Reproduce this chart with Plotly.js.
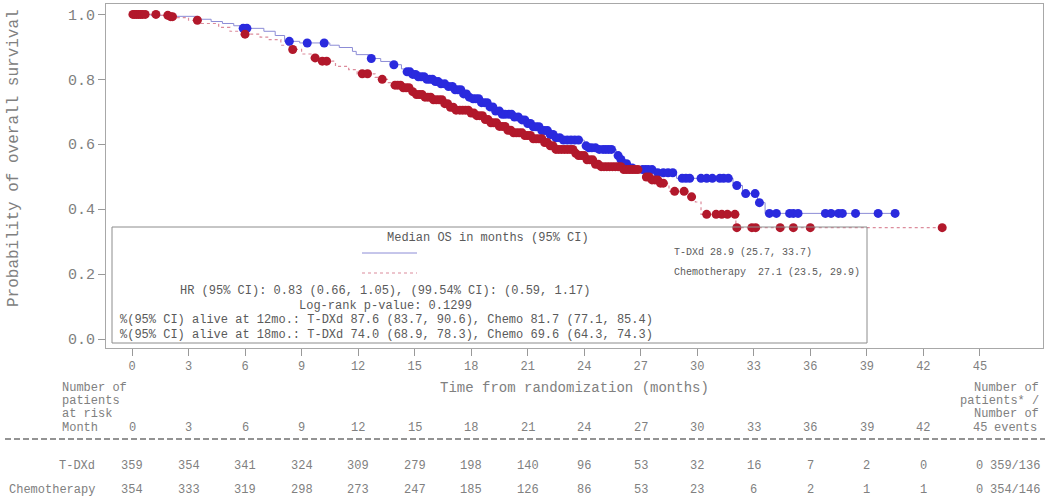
<!DOCTYPE html>
<html>
<head>
<meta charset="utf-8">
<script src="https://cdn.plot.ly/plotly-3.0.1.min.js"></script>
<style>html,body{margin:0;padding:0;background:#fff;}#chart{width:1047px;height:504px;}</style>
</head>
<body>
<div id="chart"></div>
<script>
// ---- Data ----
const tdxdTime = [0, 1.0, 2.0, 3.5, 4.2, 4.8, 5.4, 5.8, 7.0, 7.6, 8.1, 8.9, 10.5, 11.0, 11.7, 11.9, 12.6, 13.2, 13.7, 14.3, 14.6, 14.9, 15.2, 15.6, 16.0, 16.4, 16.8, 17.1, 17.5, 17.9, 18.0, 18.5, 18.9, 19.2, 19.6, 20.3, 20.6, 21.0, 21.3, 21.7, 22.1, 22.4, 22.9, 24.0, 24.2, 24.8, 25.7, 25.9, 26.1, 26.4, 26.9, 27.8, 28.9, 31.9, 32.4, 33.2, 33.6];
const tdxdSurv = [1.0, 0.997, 0.994, 0.985, 0.978, 0.972, 0.965, 0.957, 0.948, 0.935, 0.917, 0.912, 0.905, 0.898, 0.886, 0.876, 0.864, 0.855, 0.845, 0.832, 0.823, 0.815, 0.808, 0.800, 0.793, 0.786, 0.778, 0.768, 0.755, 0.745, 0.740, 0.728, 0.715, 0.702, 0.692, 0.684, 0.675, 0.664, 0.654, 0.642, 0.630, 0.620, 0.613, 0.595, 0.589, 0.584, 0.565, 0.553, 0.540, 0.527, 0.522, 0.512, 0.495, 0.473, 0.448, 0.420, 0.387];
const tdxdCensor = [5.9, 6.1, 8.35, 9.3, 10.2, 12.7, 13.9, 14.6, 14.75, 14.9, 15.05, 15.2, 15.35, 15.5, 15.65, 15.8, 15.95, 16.1, 16.25, 16.4, 16.6, 16.8, 17.0, 17.15, 17.3, 17.45, 17.6, 17.75, 17.9, 18.1, 18.25, 18.4, 18.55, 18.7, 18.85, 19.0, 19.15, 19.3, 19.5, 19.65, 19.8, 20.0, 20.15, 20.3, 20.5, 20.7, 20.85, 21.0, 21.15, 21.3, 21.45, 21.6, 21.75, 21.9, 22.05, 22.2, 22.35, 22.5, 22.7, 22.9, 23.1, 23.3, 23.5, 23.7, 24.1, 24.25, 24.4, 24.6, 24.8, 25.0, 25.15, 25.3, 25.45, 25.8, 25.95, 26.1, 26.25, 26.4, 26.55, 27.1, 27.25, 27.4, 27.6, 27.9, 28.2, 28.45, 28.7, 29.2, 29.4, 29.6, 30.2, 30.5, 30.8, 31.2, 31.4, 31.65, 32.1, 32.57, 33.07, 33.3, 33.83, 34.2, 34.9, 35.1, 35.35, 36.8, 37.1, 37.5, 37.7, 38.4, 39.6, 40.5];

const chemoTime = [0, 1.5, 2.0, 2.2, 3.0, 3.6, 4.6, 5.2, 5.9, 6.8, 7.2, 7.9, 8.4, 9.0, 9.5, 10.0, 10.8, 11.5, 11.95, 12.9, 13.2, 13.6, 13.9, 14.3, 14.8, 15.0, 15.5, 16.0, 16.5, 16.9, 17.2, 17.95, 18.3, 18.7, 19.0, 19.4, 19.9, 20.2, 20.8, 21.3, 21.8, 22.2, 22.5, 23.5, 23.6, 24.1, 24.5, 24.8, 26.1, 27.1, 27.5, 28.0, 28.5, 29.5, 29.9, 30.2, 32.05];
const chemoSurv = [1.0, 0.997, 0.993, 0.990, 0.982, 0.972, 0.960, 0.948, 0.939, 0.930, 0.922, 0.905, 0.892, 0.878, 0.866, 0.856, 0.840, 0.830, 0.817, 0.806, 0.800, 0.790, 0.782, 0.774, 0.762, 0.753, 0.745, 0.737, 0.725, 0.714, 0.705, 0.696, 0.688, 0.676, 0.666, 0.655, 0.643, 0.635, 0.627, 0.617, 0.605, 0.595, 0.584, 0.572, 0.565, 0.552, 0.538, 0.531, 0.522, 0.499, 0.490, 0.480, 0.455, 0.438, 0.422, 0.384, 0.343];
const chemoCensor = [0.05, 0.15, 0.25, 0.35, 0.45, 0.55, 0.7, 1.27, 1.9, 2.05, 2.15, 3.47, 6.0, 8.53, 9.72, 10.1, 10.33, 12.22, 12.5, 13.28, 13.96, 14.1, 14.25, 14.4, 14.55, 14.7, 14.9, 15.1, 15.25, 15.4, 15.55, 15.7, 15.85, 16.0, 16.15, 16.3, 16.45, 16.6, 16.75, 16.9, 17.05, 17.2, 17.4, 17.55, 17.7, 17.85, 18.0, 18.15, 18.3, 18.45, 18.6, 18.75, 18.9, 19.05, 19.2, 19.35, 19.5, 19.65, 19.8, 19.95, 20.1, 20.25, 20.4, 20.55, 20.7, 20.85, 21.0, 21.15, 21.3, 21.45, 21.6, 21.75, 21.9, 22.05, 22.2, 22.35, 22.5, 22.65, 22.8, 22.95, 23.1, 23.25, 23.4, 23.55, 23.7, 23.85, 24.0, 24.15, 24.3, 24.45, 24.6, 24.75, 24.9, 25.05, 25.2, 25.35, 25.5, 25.65, 25.8, 25.95, 26.1, 26.25, 26.4, 26.55, 26.7, 26.85, 27.3, 27.45, 27.6, 27.75, 27.9, 28.05, 28.2, 28.8, 29.3, 29.7, 30.5, 31.0, 31.3, 31.6, 32.0, 32.1, 32.9, 33.1, 34.4, 35.1, 36.0, 43.0];

const monthTicks = [0, 3, 6, 9, 12, 15, 18, 21, 24, 27, 30, 33, 36, 39, 42, 45];
const tdxdAtRisk = [359, 354, 341, 324, 309, 279, 198, 140, 96, 53, 32, 16, 7, 2, 0, 0];
const chemoAtRisk = [354, 333, 319, 298, 273, 247, 185, 126, 86, 53, 23, 6, 2, 1, 1, 0];
const armNames = ["T-DXd", "Chemotherapy"];
const patientsEvents = ["359/136", "354/146"];
const yTicks = [0, 0.2, 0.4, 0.6, 0.8, 1.0];

const legendLines = {
  title: "Median OS in months (95% CI)",
  tdxd: "T-DXd 28.9 (25.7, 33.7)",
  chemo: "Chemotherapy  27.1 (23.5, 29.9)",
  hr: "HR (95% CI): 0.83 (0.66, 1.05), (99.54% CI): (0.59, 1.17)",
  logrank: "Log-rank p-value: 0.1299",
  m12: "%(95% CI) alive at 12mo.: T-DXd 87.6 (83.7, 90.6), Chemo 81.7 (77.1, 85.4)",
  m18: "%(95% CI) alive at 18mo.: T-DXd 74.0 (68.9, 78.3), Chemo 69.6 (64.3, 74.3)"
};

// ---- Helpers ----
const MONO = "Liberation Mono, Courier New, monospace";
const W = 1047, H = 504;
const L = 106, R = 4, T = 4, B = 156;
const PW = W - L - R, PH = H - T - B;
const px = v => (v - L) / PW;           // pixel x -> paper
const py = v => (H - B - v) / PH;       // pixel y -> paper

function survAt(times, surv, t) {
  let s = surv[0];
  for (let i = 0; i < times.length; i++) { if (times[i] <= t) s = surv[i]; else break; }
  return s;
}

const tdxdEnd = Math.max(...tdxdCensor);
const chemoEnd = Math.max(...chemoCensor);

const BLUE = "#2a2ade", RED = "#b2182b";

const traces = [
  { x: tdxdTime.concat([tdxdEnd]), y: tdxdSurv.concat([tdxdSurv[tdxdSurv.length - 1]]),
    mode: "lines", line: { shape: "hv", color: "#8c8cd6", width: 1 }, hoverinfo: "skip" },
  { x: chemoTime.concat([chemoEnd]), y: chemoSurv.concat([chemoSurv[chemoSurv.length - 1]]),
    mode: "lines", line: { shape: "hv", color: "#dc8c9c", width: 1.2, dash: "dot" }, hoverinfo: "skip" },
  { x: tdxdCensor, y: tdxdCensor.map(t => survAt(tdxdTime, tdxdSurv, t)),
    mode: "markers", marker: { color: BLUE, size: 9 } },
  { x: chemoCensor, y: chemoCensor.map(t => survAt(chemoTime, chemoSurv, t)),
    mode: "markers", marker: { color: RED, size: 9 } }
];

const GREY = "#808080", BOXTXT = "#5a5a5a";
const ann = [];
function addP(text, x, y, anchor, size, color) {
  ann.push({ text: text, xref: "paper", yref: "paper", x: px(x), y: py(y), xanchor: anchor || "left",
    yanchor: "middle", showarrow: false, font: { family: MONO, size: size || 12, color: color || GREY } });
}
function addX(text, m, y, size, color) {
  ann.push({ text: String(text), xref: "x", yref: "paper", x: m, y: py(y), xanchor: "center",
    yanchor: "middle", showarrow: false, font: { family: MONO, size: size || 12, color: color || GREY } });
}

// y-axis title
ann.push({ text: "Probability of overall survival", xref: "paper", yref: "paper", x: px(14), y: py(158),
  xanchor: "center", yanchor: "middle", textangle: -90, showarrow: false,
  font: { family: MONO, size: 16, color: GREY } });
// x-axis title
addP("Time from randomization (months)", 574, 388, "center", 14, GREY);

// risk table header
addP("Number of", 60, 388, "left");
addP("patients", 60, 401, "left");
addP("at risk", 60, 414, "left");
addP("Month", 60, 428, "left");
monthTicks.forEach(m => addX(m, m, 428));
addP("events", 992, 428, "left");
addP("Number of", 1041, 388, "right");
addP("patients* /", 1041, 401, "right");
addP("Number of", 1041, 414, "right");

// risk rows
addP(armNames[0], 97, 466, "right");
addP(armNames[1], 97, 490, "right");
monthTicks.forEach((m, i) => { addX(tdxdAtRisk[i], m, 466); addX(chemoAtRisk[i], m, 490); });
addP(patientsEvents[0], 988, 466, "left");
addP(patientsEvents[1], 988, 490, "left");

// legend box text
addP(legendLines.title, 488, 238, "center", 12, BOXTXT);
addP(legendLines.tdxd, 672, 253, "left", 10, BOXTXT);
addP(legendLines.chemo, 672, 272, "left", 10, BOXTXT);
addP(legendLines.hr, 385, 291, "center", 12, BOXTXT);
addP(legendLines.logrank, 385, 306, "center", 12, BOXTXT);
addP(legendLines.m12, 118, 320, "left", 12, BOXTXT);
addP(legendLines.m18, 118, 335, "left", 12, BOXTXT);

const shapes = [
  { type: "rect", xref: "paper", yref: "paper", x0: px(112), x1: px(867), y0: py(343), y1: py(227),
    line: { color: "#8c8c8c", width: 1 }, fillcolor: "rgba(255,255,255,0)" },
  { type: "line", xref: "paper", yref: "paper", x0: px(362), x1: px(417), y0: py(253), y1: py(253),
    line: { color: "#8c8cd6", width: 1 } },
  { type: "line", xref: "paper", yref: "paper", x0: px(362), x1: px(417), y0: py(273), y1: py(273),
    line: { color: "#dc8c9c", width: 1.2, dash: "dot" } },
  { type: "line", xref: "paper", yref: "paper", x0: px(5), x1: px(1045), y0: py(439), y1: py(439),
    line: { color: "#707070", width: 1.5, dash: "6px,3px" } }
];

const layout = {
  width: W, height: H,
  margin: { l: L, r: R, t: T, b: B, pad: 0 },
  paper_bgcolor: "#fff", plot_bgcolor: "#fff",
  showlegend: false,
  xaxis: { range: [-1.38, 48.35], tickvals: monthTicks, ticks: "outside", ticklen: 7, tickcolor: "#999",
    showline: true, mirror: true, linecolor: "#a8a8a8", linewidth: 1, showgrid: false, zeroline: false,
    tickfont: { family: MONO, size: 12, color: GREY } },
  yaxis: { range: [-0.0277, 1.032], tickvals: yTicks, tickformat: ".1f", ticks: "outside", ticklen: 7, tickcolor: "#999",
    showline: true, mirror: true, linecolor: "#a8a8a8", linewidth: 1, showgrid: false, zeroline: false,
    tickfont: { family: MONO, size: 15, color: GREY } },
  annotations: ann,
  shapes: shapes
};

Plotly.newPlot("chart", traces, layout, { staticPlot: true, displayModeBar: false });
</script>
</body>
</html>
